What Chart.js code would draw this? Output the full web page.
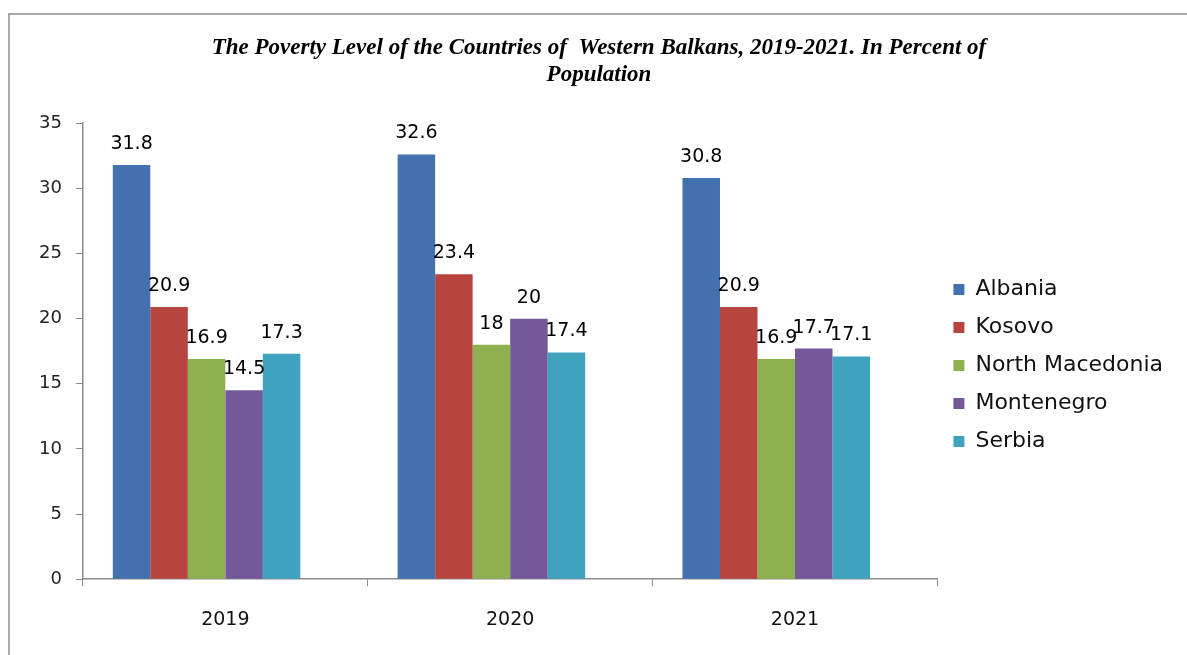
<!DOCTYPE html>
<html>
<head>
<meta charset="utf-8">
<script src="https://cdn.jsdelivr.net/npm/chart.js@4.4.1/dist/chart.umd.min.js"></script>
<style>
  html, body { margin: 0; padding: 0; background: #fff; overflow: hidden; }
  #wrap { position: relative; width: 1187px; height: 655px; }
  #frame {
    position: absolute; left: 8px; top: 13px; width: 1200px; height: 700px;
    border-left: 2px solid #a8a8a8; border-top: 2px solid #a8a8a8;
    pointer-events: none;
  }
</style>
</head>
<body>
<div id="wrap">
  <canvas id="povertyChart" width="1187" height="655"></canvas>
  <div id="frame"></div>
</div>
<script>
// years on the x axis
const years = ['2019', '2020', '2021'];

// one array per country, percent of population
const albania = [31.8, 32.6, 30.8];
const kosovo = [20.9, 23.4, 20.9];
const northMacedonia = [16.9, 18, 16.9];
const montenegro = [14.5, 20, 17.7];
const serbia = [17.3, 17.4, 17.1];

const countries = ['Albania', 'Kosovo', 'North Macedonia', 'Montenegro', 'Serbia'];
const seriesValues = [albania, kosovo, northMacedonia, montenegro, serbia];
const seriesColors = ['#4371ae', '#b8443f', '#8eb050', '#73589a', '#3fa2bf'];

const titleLines = [
    'The Poverty Level of the Countries of  Western Balkans, 2019-2021. In Percent of',
    'Population'
];

// draws the value above each bar
const valueLabels = {
    id: 'valueLabels',
    afterDatasetsDraw(chart) {
        const ctx = chart.ctx;
        ctx.save();
        ctx.font = '19px "DejaVu Sans"';
        ctx.fillStyle = '#000';
        ctx.textAlign = 'center';
        ctx.textBaseline = 'middle';
        chart.data.datasets.forEach((ds, i) => {
            if (ds.spacer) return;
            chart.getDatasetMeta(i).data.forEach((bar, j) => {
                ctx.fillText(String(ds.data[j]), bar.x, bar.y - 21);
            });
        });
        ctx.restore();
    }
};

const datasets = countries.map((name, i) => ({
    label: name,
    data: seriesValues[i],
    backgroundColor: seriesColors[i],
    borderWidth: 0,
    categoryPercentage: 0.79,
    barPercentage: 1
}));
// the Excel groups sit a bit left of the category centre: an empty
// slot after Serbia reproduces that
datasets.push({
    label: '',
    spacer: true,
    data: years.map(() => null),
    backgroundColor: 'rgba(0,0,0,0)',
    categoryPercentage: 0.79,
    barPercentage: 1
});

const ctx = document.getElementById('povertyChart').getContext('2d');
const chart = new Chart(ctx, {
    type: 'bar',
    data: { labels: years, datasets: datasets },
    options: {
        responsive: false,
        animation: false,
        layout: {
            padding: { left: 25, right: 14, top: 0, bottom: 2 }
        },
        plugins: {
            title: {
                display: true,
                text: titleLines,
                color: '#000',
                font: { family: '"Liberation Serif"', size: 23, style: 'italic', weight: 'bold', lineHeight: 1.2 },
                padding: { top: 34, bottom: 34 }
            },
            legend: {
                position: 'right',
                fullSize: false,
                title: { display: true, text: '', padding: 0, font: { size: 24 } },
                labels: {
                    boxWidth: 11,
                    boxHeight: 11,
                    padding: 16,
                    color: '#111',
                    font: { family: '"DejaVu Sans"', size: 22 },
                    filter: item => item.text !== ''
                }
            },
            tooltip: { enabled: false }
        },
        scales: {
            x: {
                offset: true,
                border: { color: '#8c8c8c', width: 1.5 },
                grid: {
                    offset: true,
                    drawOnChartArea: false,
                    drawTicks: true,
                    tickLength: 7,
                    color: '#8c8c8c'
                },
                ticks: {
                    padding: 22,
                    color: '#111',
                    font: { family: '"DejaVu Sans"', size: 19 }
                }
            },
            y: {
                min: 0,
                max: 35,
                border: { color: '#8c8c8c', width: 1.5 },
                grid: {
                    drawOnChartArea: false,
                    drawTicks: true,
                    tickLength: 7,
                    color: '#8c8c8c'
                },
                ticks: {
                    stepSize: 5,
                    padding: 14,
                    color: '#222',
                    font: { family: '"DejaVu Sans"', size: 18 }
                }
            }
        }
    },
    plugins: [valueLabels]
});
</script>
</body>
</html>
